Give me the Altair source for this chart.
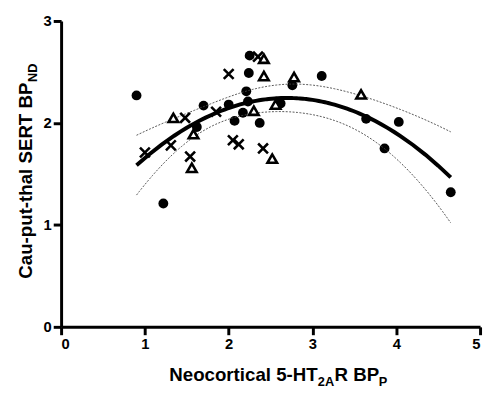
import altair as alt
import pandas as pd
import numpy as np

# Filled circles
circ_x = [0.90, 1.22, 1.70, 1.62, 2.00, 2.07, 2.17, 2.21, 2.23, 2.25, 2.24, 2.37, 2.62, 2.76, 3.11, 3.64, 4.03, 3.86, 4.65]
circ_y = [2.27, 1.21, 2.17, 1.96, 2.18, 2.02, 2.10, 2.31, 2.21, 2.66, 2.49, 2.00, 2.19, 2.37, 2.46, 2.04, 2.01, 1.75, 1.32]
# Crosses
cross_x = [1.00, 1.31, 1.54, 1.48, 1.85, 2.00, 2.35, 2.05, 2.12, 2.41]
cross_y = [1.71, 1.78, 1.67, 2.05, 2.11, 2.48, 2.65, 1.83, 1.79, 1.75]
# Open triangles
tri_x = [1.34, 1.58, 1.56, 2.42, 2.42, 2.30, 2.52, 2.56, 2.78, 3.58]
tri_y = [2.05, 1.89, 1.56, 2.63, 2.46, 2.12, 1.65, 2.18, 2.45, 2.28]

x_ticks = [0, 1, 2, 3, 4, 5]
y_ticks = [0, 1, 2, 3]

FONT = "Liberation Sans"

circ = pd.DataFrame({"x": circ_x, "y": circ_y})
crs = pd.DataFrame({"x": cross_x, "y": cross_y})
tri = pd.DataFrame({"x": tri_x, "y": tri_y})
alldf = pd.concat([circ, crs, tri], ignore_index=True)

# 95% confidence band of the quadratic fit, computed from the data
xa = alldf["x"].to_numpy()
ya = alldf["y"].to_numpy()
n = len(xa)
X = np.column_stack([np.ones(n), xa, xa ** 2])
beta, *_ = np.linalg.lstsq(X, ya, rcond=None)
resid = ya - X @ beta
s2 = resid @ resid / (n - 3)
cov = s2 * np.linalg.inv(X.T @ X)
xs = np.linspace(xa.min(), xa.max(), 120)
G = np.column_stack([np.ones_like(xs), xs, xs ** 2])
fit = G @ beta
se = np.sqrt(np.einsum("ij,jk,ik->i", G, cov, G))
tval = 2.028
band = pd.DataFrame({"x": xs, "lo": fit - tval * se, "hi": fit + tval * se})

xscale = alt.Scale(domain=[0, 5], nice=False, zero=False)
yscale = alt.Scale(domain=[0, 3], nice=False, zero=False)

axis_common = dict(
    title=None, grid=False, domainWidth=3, domainColor="black", tickWidth=3,
    tickColor="black", tickSize=8, labelFont=FONT, labelFontWeight="bold",
    labelFontSize=15, labelColor="black", labelPadding=2, format="d",
)
xaxis = alt.Axis(values=x_ticks, **axis_common)
yaxis = alt.Axis(values=y_ticks, **axis_common)

base = alt.Chart(alldf)

points_c = alt.Chart(circ).mark_point(
    shape="circle", filled=True, color="black", size=100, opacity=1
).encode(x=alt.X("x:Q", scale=xscale, axis=xaxis), y=alt.Y("y:Q", scale=yscale, axis=yaxis))

points_x = alt.Chart(crs).mark_point(
    shape="M-1,-1L1,1M1,-1L-1,1", filled=False, color="black", size=100,
    strokeWidth=2.6, opacity=1
).encode(x="x:Q", y="y:Q")

points_t = alt.Chart(tri).mark_point(
    shape="triangle-up", filled=True, fill="white", stroke="black", size=95,
    strokeWidth=2.6, opacity=1, fillOpacity=1
).encode(x="x:Q", y="y:Q")

lo_line = alt.Chart(band).mark_line(color="#444", strokeWidth=0.9, strokeDash=[2, 1.5]).encode(x="x:Q", y="lo:Q")
hi_line = alt.Chart(band).mark_line(color="#444", strokeWidth=0.9, strokeDash=[2, 1.5]).encode(x="x:Q", y="hi:Q")

fit_line = base.transform_regression("x", "y", method="poly", order=2).mark_line(
    color="black", strokeWidth=4
).encode(x="x:Q", y="y:Q")

# Axis titles with subscripts
def txt(s, px, py, size, angle=0, align="left"):
    return alt.Chart(pd.DataFrame({"t": [s]})).mark_text(
        font=FONT, fontWeight="bold", fontSize=size, color="black",
        align=align, baseline="alphabetic", angle=angle
    ).encode(text="t:N", x=alt.value(px), y=alt.value(py))

MAIN = 19
SUB = 13
x0 = 110
yb = 366
xt = [
    txt("Neocortical 5-HT", x0, yb, MAIN),
    txt("2A", x0 + 151, yb + 5, SUB),
    txt("R BP", x0 + 151 + 17, yb, MAIN),
    txt("P", x0 + 151 + 17 + 45, yb + 5, SUB),
]
ybase_x = -30
ystart = 262
yt = [
    txt("Cau-put-thal SERT BP", ybase_x, ystart, MAIN, angle=270),
    txt("ND", ybase_x + 5, ystart - 200, SUB, angle=270),
]

chart = alt.layer(
    points_c, lo_line, hi_line, fit_line, points_x, points_t, *xt, *yt
).properties(
    width=426, height=311,
    autosize=alt.AutoSizeParams(type="none"),
    padding={"left": 54, "top": 10, "right": 4, "bottom": 60},
).configure_view(stroke=None)

chart.save("out.html", embed_options={"renderer": "svg", "actions": False})
